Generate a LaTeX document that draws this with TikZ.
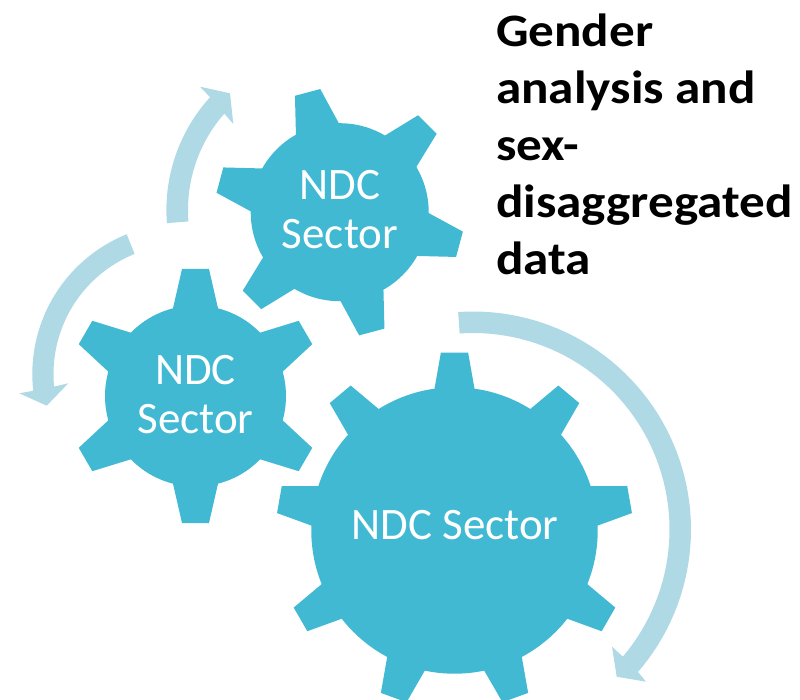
\documentclass[tikz,border=0pt]{standalone}
\usepackage{fontspec}
\setmainfont{Carlito}
\newfontfamily\titlefont[FakeStretch=1.1]{Carlito}
\definecolor{gearblue}{HTML}{41B9D3}
\definecolor{arrowblue}{HTML}{B0D9E6}
\tikzset{
  x=1pt,y=-1pt,
  gearlabel/.style={text=white,font=\fontsize{45}{45}\selectfont,anchor=base,inner sep=0pt},
  titletext/.style={text=black,font=\titlefont\fontsize{46.5}{57}\bfseries\selectfont,anchor=north west,align=left,inner sep=0pt}
}
% cx cy r teeth offset basehalf baseheight tipheight tiphalf
\newcommand{\mygear}[9]{%
  \fill[gearblue] (#1,#2) circle[radius=#3pt];
  \foreach \tn in {1,...,#4}{
    \pgfmathsetmacro{\ang}{#5+(\tn-1)*360/#4}
    \begin{scope}[shift={(#1,#2)},rotate=-\ang]
      \fill[gearblue] (-#6,-#7) -- (-#9,-#8) -- (#9,-#8) -- (#6,-#7) -- (#6,-#7+10) -- (-#6,-#7+10) -- cycle;
    \end{scope}
  }
}
% cx cy Ro Ri startangle endO endI head
\newcommand{\myarrow}[8]{%
  \fill[arrowblue] plot[domain=#5:#6,samples=60] ({#1+#3*cos(\x)},{#2+#3*sin(\x)}) #8
    -- plot[domain=#7:#5,samples=60] ({#1+#4*cos(\x)},{#2+#4*sin(\x)}) -- cycle;
}
\begin{document}
\begin{tikzpicture}
\useasboundingbox (0,0) rectangle (800,700);
\clip (0,0) rectangle (800,700);
% arrows
\myarrow{473}{529.5}{218}{196.5}{-93.9}{40.8}{40.3}{-- (646,681.7) -- (616.7,676.7) -- (612,646.7)}
\myarrow{182.9}{374}{150.6}{129.4}{248.1}{173.6}{174.4}{-- (19.3,393.3) -- (46.7,405.7) -- (68.3,383.3)}
\myarrow{334}{210}{167.6}{146}{175.5}{222.3}{221.3}{-- (200,86.7) -- (230,93.3) -- (233.3,124)}
% gears
\mygear{454.5}{530.5}{143.2}{9}{0}{20}{141.8}{177.8}{13.65}
\mygear{195.5}{396}{90.5}{6}{0}{22.5}{87.7}{127}{13.5}
\mygear{339.7}{212.2}{89}{6}{-15}{22.2}{86.2}{124}{13.1}
% labels
\node[gearlabel] (big) at (455,539) {NDC Sector};
\node[gearlabel] (leftA) at (195.5,384) {NDC};
\node[gearlabel] (leftB) at (195.5,433) {Sector};
\node[gearlabel] (topA) at (340,200) {NDC};
\node[gearlabel] (topB) at (340,249) {Sector};
\node[titletext] (title) at (496,14) {Gender\\analysis and\\sex-\\disaggregated\\data};
\end{tikzpicture}
\end{document}
